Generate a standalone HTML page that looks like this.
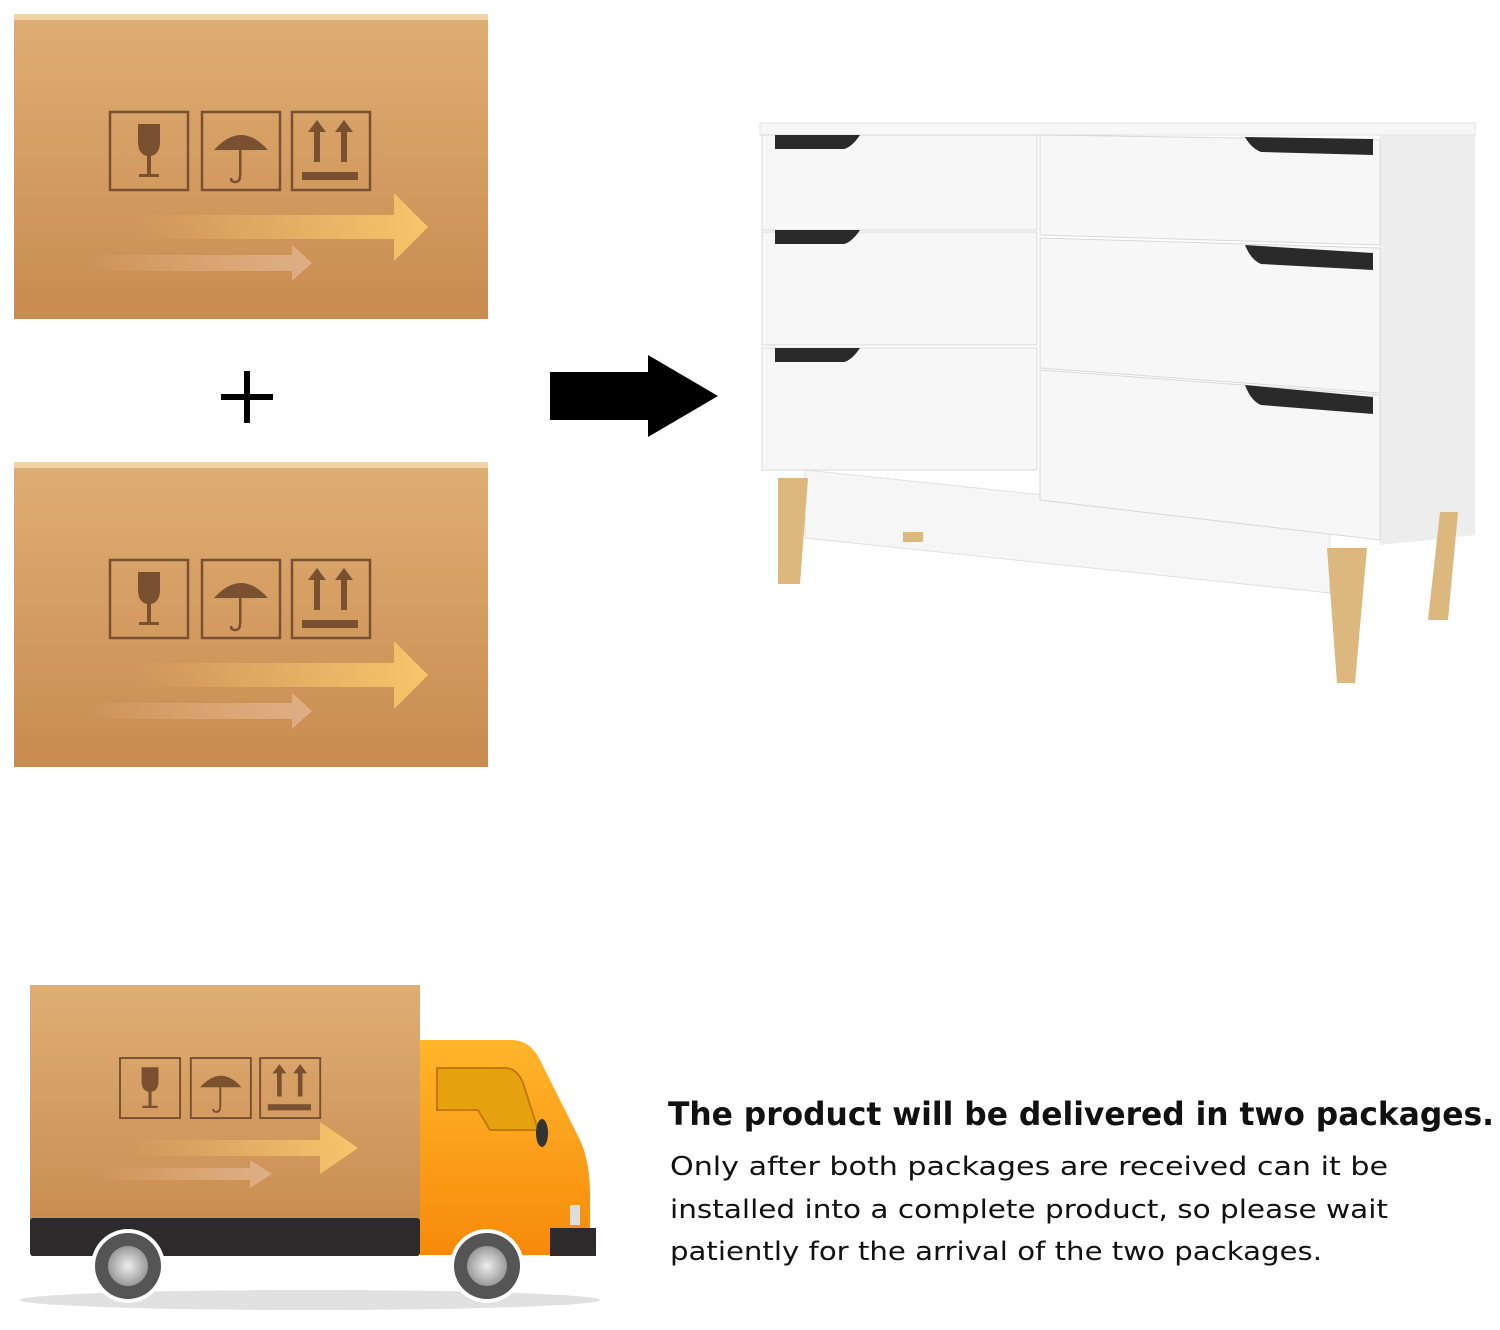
<!DOCTYPE html>
<html><head><meta charset="utf-8"><style>body{margin:0;background:#fff}svg{display:block}</style></head>
<body>
<svg width="1500" height="1330" viewBox="0 0 1500 1330" xmlns="http://www.w3.org/2000/svg">
<defs>
<linearGradient id="box" x1="0" y1="0" x2="0" y2="1"><stop offset="0" stop-color="#dfae74"/><stop offset="1" stop-color="#c98b4f"/></linearGradient>
<linearGradient id="ar1" x1="0" y1="0" x2="1" y2="0"><stop offset="0" stop-color="#f2c070" stop-opacity="0"/><stop offset="1" stop-color="#f8c66a"/></linearGradient>
<linearGradient id="ar2" x1="0" y1="0" x2="1" y2="0"><stop offset="0" stop-color="#e6b88a" stop-opacity="0"/><stop offset="1" stop-color="#dfae86"/></linearGradient>
<linearGradient id="cab" x1="0" y1="0" x2="0" y2="1"><stop offset="0" stop-color="#ffb52a"/><stop offset="1" stop-color="#f78a0a"/></linearGradient>
<radialGradient id="wh"><stop offset="0" stop-color="#eee"/><stop offset="1" stop-color="#999"/></radialGradient>
<g id="icons" fill="none" stroke="#7a5130" stroke-width="2.5">
<rect x="0" y="0" width="78" height="78"/><rect x="92" y="0" width="78" height="78"/><rect x="182" y="0" width="78" height="78"/>
<g fill="#7a5130" stroke="none">
<path d="M28 12h22v18q0 12-9 14v18h8v3h-20v-3h8v-18q-9-2-9-14z"/>
<path d="M104 38q27-30 54 0z"/><rect x="129" y="36" width="2.5" height="28"/>
<rect x="192" y="60" width="56" height="8"/><path d="M198 20l9-12 9 12h-6v30h-6v-30zM225 20l9-12 9 12h-6v30h-6v-30z"/>
</g><path d="M130 64q0 6 -5 6q-4 0-4-4"/></g>
<g id="crate">
<rect x="0" y="0" width="474" height="305" fill="url(#box)"/>
<rect x="0" y="0" width="474" height="6" fill="#f0d3a6"/>
<use href="#icons" x="96" y="98"/>
<path d="M120 201h260v-22l34 34-34 34v-22h-260z" fill="url(#ar1)"/>
<path d="M70 241h208v-10l20 18-20 18v-10h-208z" fill="url(#ar2)"/>
</g>
</defs>
<use href="#crate" x="14" y="14"/>
<use href="#crate" x="14" y="462"/>
<rect x="221" y="394" width="52" height="6" fill="#000"/><rect x="244" y="371" width="6" height="52" fill="#000"/>
<path d="M550 372h98v-17l70 41-70 41v-17h-98z" fill="#000"/>
<!-- dresser -->
<path d="M1380 135h95v400l-95 10z" fill="#ededed"/>
<path d="M805 470l525 55v68l-525-55z" fill="#f6f6f6" stroke="#e0e0e0"/>
<rect x="760" y="123" width="715" height="12" fill="#f7f7f7" stroke="#e2e2e2"/>
<g fill="#f7f7f7" stroke="#d8d8d8">
<path d="M762 135h275v95h-275z"/>
<path d="M762 232h275v113h-275z"/>
<path d="M762 348h275v122h-275z"/>
<path d="M1040 135l340 5v105l-340-10z"/>
<path d="M1040 238l340 10v145l-340-25z"/>
<path d="M1040 370l340 25v145l-340-40z"/>
</g>
<g fill="#2a2a2a">
<path d="M775 135h85q-8 12-16 14h-69z"/><path d="M775 230h85q-8 12-16 14h-69z"/><path d="M775 348h85q-8 12-16 14h-69z"/>
<path d="M1245 137l128 2v16l-112-3q-10-4-16-15z"/><path d="M1245 245l128 8v17l-112-6q-10-4-16-19z"/><path d="M1245 385l128 12v17l-112-9q-10-4-16-20z"/>
</g>
<g fill="#dcb77e">
<path d="M778 478h30l-8 106h-22z"/><path d="M1327 548h40l-12 135h-18z"/><path d="M1440 512h18l-10 108h-20z"/><path d="M903 532h20v10h-20z"/>
</g>
<!-- truck -->
<ellipse cx="310" cy="1300" rx="290" ry="10" fill="#ccc" opacity=".6"/>
<rect x="30" y="985" width="390" height="250" fill="url(#box)"/>
<rect x="30" y="1218" width="390" height="38" rx="3" fill="#2e2a2c"/>
<g transform="translate(120 1058) scale(0.77)"><use href="#icons"/></g>
<path d="M130 1140h190v-18l38 26-38 26v-18h-190z" fill="url(#ar1)"/>
<path d="M100 1168h150v-8l22 14-22 14v-8h-150z" fill="url(#ar2)"/>
<path d="M420 1040h92q18 0 28 20l40 80q10 22 10 55v60h-170z" fill="url(#cab)"/>
<path d="M437 1068h68q12 0 18 15l15 47h-48l-12-20h-41z" fill="#e5a20e" stroke="#c27a04" stroke-width="2"/>
<ellipse cx="542" cy="1133" rx="6" ry="14" fill="#333"/>
<rect x="550" y="1228" width="46" height="28" fill="#2e2a2c"/>
<rect x="570" y="1205" width="10" height="20" fill="#ddd"/>
<circle cx="128" cy="1266" r="37" fill="#fff"/><circle cx="128" cy="1266" r="33" fill="#555"/><circle cx="128" cy="1266" r="20" fill="url(#wh)"/>
<circle cx="487" cy="1266" r="37" fill="#fff"/><circle cx="487" cy="1266" r="33" fill="#555"/><circle cx="487" cy="1266" r="20" fill="url(#wh)"/>
<g font-family="'DejaVu Sans','Liberation Sans',sans-serif" fill="#111">
<text x="668" y="1125" font-size="32" font-weight="bold" textLength="826" lengthAdjust="spacingAndGlyphs">The product will be delivered in two packages.</text>
<text x="670" y="1175" font-size="26" textLength="718" lengthAdjust="spacingAndGlyphs">Only after both packages are received can it be</text>
<text x="670" y="1218" font-size="26" textLength="718" lengthAdjust="spacingAndGlyphs">installed into a complete product, so please wait</text>
<text x="670" y="1260" font-size="26" textLength="652" lengthAdjust="spacingAndGlyphs">patiently for the arrival of the two packages.</text>
</g>
</svg>
</body></html>
